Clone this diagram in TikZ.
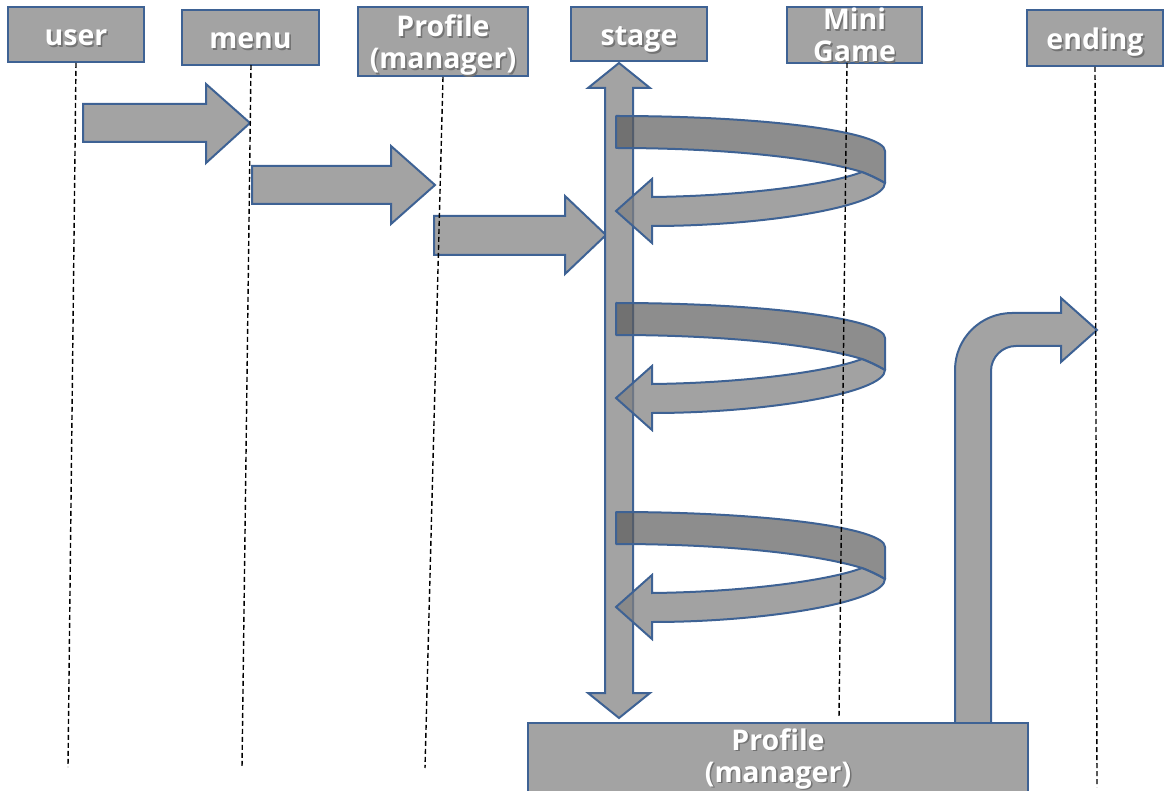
\documentclass[tikz,border=0pt]{standalone}
\usepackage{fontspec}
\setmainfont{Open Sans}
\definecolor{bd}{RGB}{62,98,148}
\definecolor{fl}{RGB}{163,163,163}
\definecolor{dk}{RGB}{92,92,92}
\definecolor{lt}{RGB}{128,128,128}
\newcommand\shd[1]{\leavevmode\rlap{\kern1.6pt\raisebox{-1.6pt}{\textcolor{black!55}{#1}}}\textcolor{white}{#1}}
\newcommand\mkloop{%
  \draw[loopdk] (0,0) .. controls (148.6,0) and (269,15.7) .. (269,35) -- (269,67)
    .. controls (262,63) and (255,59.5) .. (246,56)
    .. controls (200,42) and (110,32) .. (0,32) -- cycle;
  \draw[looplt] (36,81) .. controls (130,80) and (215,68) .. (246,56)
    .. controls (255,59.5) and (262,63) .. (269,67)
    .. controls (269,90) and (150,110) .. (36,110)
    -- (36,127) -- (0,95) -- (36,63) -- cycle;}
\begin{document}
\begin{tikzpicture}[x=1pt,y=-1pt,
  hdr/.style={draw=bd, line width=2pt, fill=fl, inner sep=0pt},
  lbl/.style={font=\bfseries\fontsize{28.5}{32}\selectfont, align=center, inner sep=0pt},
  life/.style={black, line width=1.4pt, dash pattern=on 5pt off 3pt},
  blk/.style={draw=bd, line width=2pt, fill=fl, line join=miter},
  loopdk/.style={draw=bd, line width=2pt, fill=dk, fill opacity=0.7, line join=round},
  looplt/.style={draw=bd, line width=2pt, fill=lt, fill opacity=0.73, line join=miter}]
\useasboundingbox (0,0) rectangle (1164,791);

% header boxes
\node[hdr, minimum width=136, minimum height=55] (user) at (76,34.5) {};
\node[lbl, anchor=base] (userT) at (76,46) {\shd{user}};
\node[hdr, minimum width=137, minimum height=55] (menu) at (250.5,37.5) {};
\node[lbl, anchor=base] (menuT) at (250.5,49) {\shd{menu}};
\node[hdr, minimum width=170, minimum height=69] (prof) at (443,41.5) {};
\node[lbl] (profT) at (443,46) {\shd{Profile}\\\shd{(manager)}};
\node[hdr, minimum width=136, minimum height=54] (stage) at (639,34) {};
\node[lbl, anchor=base] (stageT) at (639,45.5) {\shd{stage}};
\node[hdr, minimum width=135, minimum height=56] (mini) at (854.5,35) {};
\node[lbl] (miniT) at (854.5,36) {\shd{Mini}\\\shd{Game}};
\node[hdr, minimum width=136, minimum height=56] (ending) at (1095,38) {};
\node[lbl, anchor=base] (endingT) at (1095,49.5) {\shd{ending}};

% straight block arrows
\draw[blk] (83,104) -- (206,104) -- (206,84) -- (250,123) -- (206,163) -- (206,142) -- (83,142) -- cycle;
\draw[blk] (252,166) -- (391,166) -- (391,146) -- (435,185) -- (391,224) -- (391,204) -- (252,204) -- cycle;
\draw[blk] (434,216) -- (565,216) -- (565,196) -- (606,235) -- (565,274) -- (565,255) -- (434,255) -- cycle;

% stage double arrow
\draw[blk] (619,63) -- (650,88) -- (633,88) -- (633,693) -- (650,693) -- (619,718)
  -- (588,693) -- (605,693) -- (605,88) -- (588,88) -- cycle;

% loops
\begin{scope}[shift={(616,116)}]\mkloop\end{scope}
\begin{scope}[shift={(616,303)}]\mkloop\end{scope}
\begin{scope}[shift={(616,512)}]\mkloop\end{scope}

% bent arrow to ending
\draw[blk] (955,730) -- (955,370) .. controls (955,338.5) and (980.5,313) .. (1012,313)
  -- (1061,313) -- (1061,298) -- (1097,330) -- (1061,362) -- (1061,346) -- (1016,346)
  .. controls (1002.2,346) and (991,357.2) .. (991,371) -- (991,730) -- cycle;

% bottom profile box
\node[hdr, minimum width=500, minimum height=76] (pm) at (778,761) {};
\node[lbl] (pmT) at (778,759.5) {\shd{Profile}\\\shd{(manager)}};

% lifelines
\coordinate (userL) at (68,767);
\coordinate (menuTop) at (251,65);
\coordinate (menuL) at (242,768);
\coordinate (profL) at (425,768);
\coordinate (miniTop) at (847,63);
\coordinate (miniL) at (839,718);
\coordinate (endL) at (1097,787);
\draw[life] (user.south) -- (userL);
\draw[life] (menuTop) -- (menuL);
\draw[life] (prof.south) -- (profL);
\draw[life] (miniTop) -- (miniL);
\draw[life] (ending.south) -- (endL);
\end{tikzpicture}
\end{document}
